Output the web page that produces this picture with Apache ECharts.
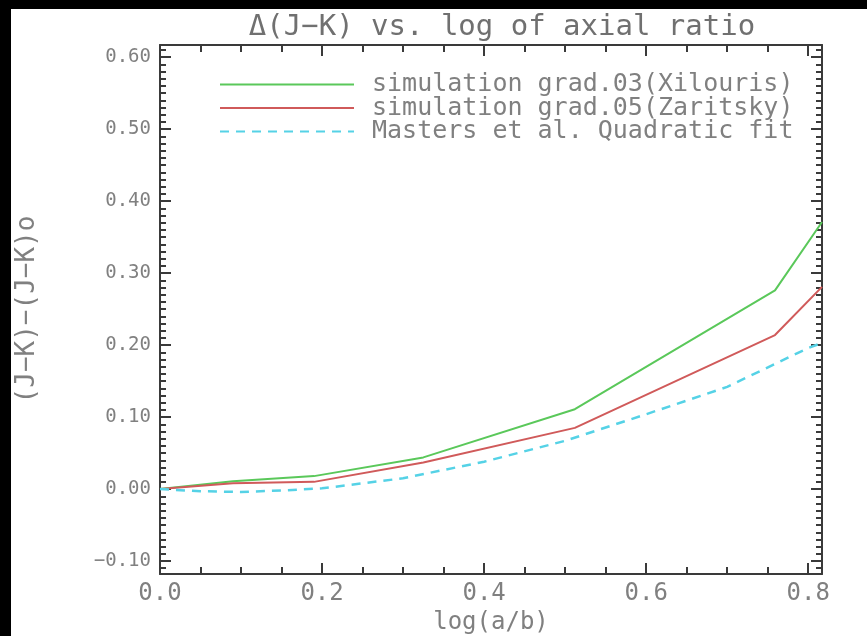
<!DOCTYPE html>
<html><head><meta charset="utf-8">
<script src="https://cdn.jsdelivr.net/npm/echarts@6/dist/echarts.min.js"></script>
<style>html,body{margin:0;padding:0;background:#fff}#c{width:867px;height:636px}</style>
</head><body><div id="c"></div>
<script>
// data
var simX = [0, 0.09, 0.19, 0.325, 0.512, 0.759, 0.817];
var greenY = [0, 0.011, 0.018, 0.044, 0.111, 0.276, 0.371];
var redY = [0, 0.008, 0.010, 0.037, 0.085, 0.214, 0.281];
var fitX = [0, 0.05, 0.1, 0.15, 0.2, 0.3, 0.4, 0.5, 0.6, 0.7, 0.8, 0.817];
var fitY = [0, -0.003, -0.004, -0.002, 0.001, 0.015, 0.038, 0.067, 0.104, 0.142, 0.196, 0.203];
var names = ['simulation grad.03(Xilouris)', 'simulation grad.05(Zaritsky)', 'Masters et al. Quadratic fit'];
var titleText = 'Δ(J−K) vs. log of axial ratio';
var xName = 'log(a/b)';
var yName = '(J−K)−(J−K)o';

function pairs(xs, ys) { return xs.map(function (x, i) { return [x, ys[i]]; }); }

var FONT = 'DejaVu Sans Mono';
var TXT = '#808080';
var AX = '#3a3a3a';

var chart = echarts.init(document.getElementById('c'));
function axisBase() {
  return {
    axisLine: { show: true, onZero: false, lineStyle: { color: AX, width: 2 } },
    splitLine: { show: false },
    minorSplitLine: { show: false }
  };
}
chart.setOption({
  backgroundColor: '#ffffff',
  animation: false,
  title: { text: titleText, left: 497, top: 8, textAlign: 'center',
    textStyle: { fontFamily: FONT, fontWeight: 'normal', fontSize: 29, color: '#707070' } },
  graphic: [
    { type: 'rect', shape: { x: 0, y: 0, width: 867, height: 9 }, style: { fill: '#000' }, z: 100 },
    { type: 'rect', shape: { x: 0, y: 0, width: 11, height: 636 }, style: { fill: '#000' }, z: 100 }
  ],
  legend: {
    orient: 'vertical', left: 214, top: 67, itemWidth: 134, itemHeight: 14, itemGap: -1.5,
    selectedMode: false,
    itemStyle: { opacity: 0 },
    textStyle: { fontFamily: FONT, fontSize: 25, lineHeight: 22, color: TXT, padding: [0, 0, 0, 13] },
    data: names
  },
  grid: { left: 160, top: 45, right: 45, bottom: 62, outerBoundsMode: 'none' },
  xAxis: [
    Object.assign(axisBase(), { type: 'value', min: 0, max: 0.817, interval: 0.2, position: 'bottom',
      name: xName, nameLocation: 'middle', nameGap: 33,
      nameTextStyle: { fontFamily: FONT, fontSize: 24, color: TXT },
      axisTick: { show: true, inside: true, length: 11, lineStyle: { color: AX, width: 2 } },
      minorTick: { show: true, splitNumber: 4, length: 7, lineStyle: { color: AX, width: 2 } },
      axisLabel: { fontFamily: FONT, fontSize: 24, color: TXT, margin: 8, showMaxLabel: false,
        formatter: function (v) { return Math.abs(v * 5 - Math.round(v * 5)) < 1e-6 ? v.toFixed(1) : ''; } }
    }),
    Object.assign(axisBase(), { type: 'value', min: 0, max: 0.817, interval: 0.2, position: 'top',
      axisTick: { show: true, inside: true, length: 11, lineStyle: { color: AX, width: 2 } },
      minorTick: { show: true, splitNumber: 4, length: 7, lineStyle: { color: AX, width: 2 } },
      axisLabel: { show: false }
    })
  ],
  yAxis: [
    Object.assign(axisBase(), { type: 'value', min: -0.118, max: 0.617, splitNumber: 7, position: 'left',
      name: yName, nameLocation: 'middle', nameGap: 120, nameRotate: 90,
      nameTextStyle: { fontFamily: FONT, fontSize: 26, color: TXT },
      axisTick: { show: true, inside: true, length: 11, lineStyle: { color: AX, width: 2 } },
      minorTick: { show: true, splitNumber: 10, length: 6, lineStyle: { color: AX, width: 2 } },
      axisLabel: { fontFamily: FONT, fontSize: 19, color: TXT, margin: 9, showMinLabel: false, showMaxLabel: false,
        formatter: function (v) {
          if (Math.abs(v * 10 - Math.round(v * 10)) > 1e-6) return '';
          return v.toFixed(2).replace('-', '−');
        } }
    }),
    Object.assign(axisBase(), { type: 'value', min: -0.118, max: 0.617, splitNumber: 7, position: 'right',
      axisTick: { show: true, inside: true, length: 11, lineStyle: { color: AX, width: 2 } },
      minorTick: { show: true, splitNumber: 10, length: 6, lineStyle: { color: AX, width: 2 } },
      axisLabel: { show: false }
    })
  ],
  series: [
    { name: names[0], type: 'line', symbol: 'none', data: pairs(simX, greenY),
      lineStyle: { color: '#5ac85a', width: 2 }, itemStyle: { color: '#5ac85a' } },
    { name: names[1], type: 'line', symbol: 'none', data: pairs(simX, redY),
      lineStyle: { color: '#d05a5a', width: 2 }, itemStyle: { color: '#d05a5a' } },
    { name: names[2], type: 'line', symbol: 'none', data: pairs(fitX, fitY),
      lineStyle: { color: '#55d2e6', width: 2.5, type: [9, 7] }, itemStyle: { color: '#55d2e6' } }
  ]
});
</script></body></html>
